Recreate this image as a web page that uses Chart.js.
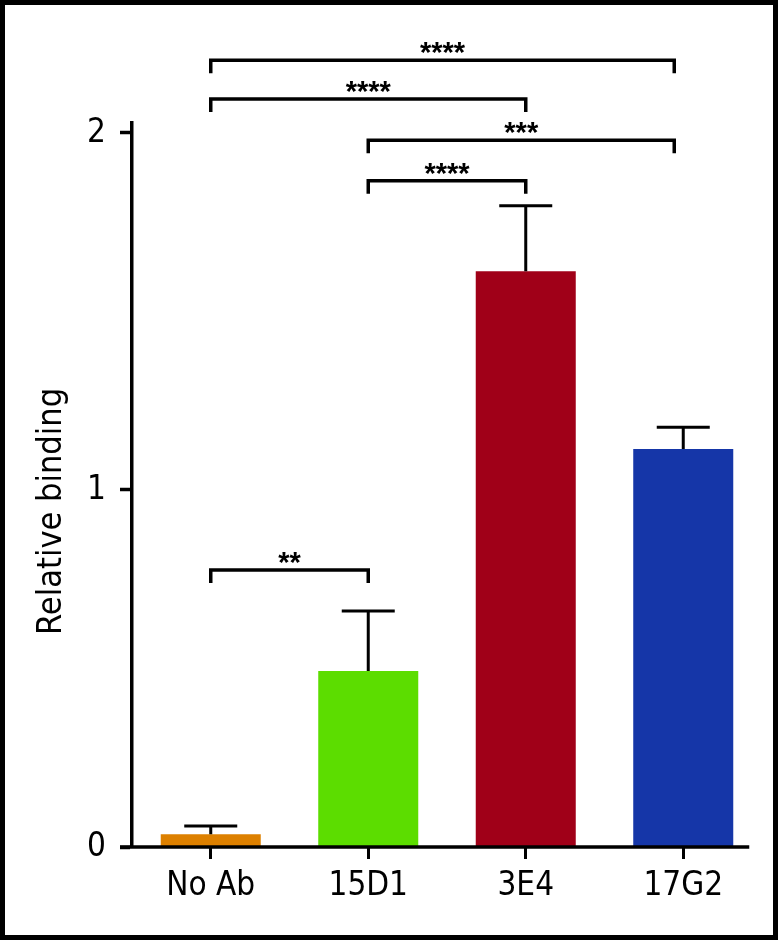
<!DOCTYPE html>
<html>
<head>
<meta charset="utf-8">
<script src="https://cdn.jsdelivr.net/npm/chart.js@4"></script>
<style>
  html, body { margin: 0; padding: 0; background: #fff; }
  #wrap { position: relative; width: 778px; height: 940px; }
</style>
</head>
<body>
<div id="wrap"><canvas id="chart" width="778" height="940"></canvas></div>
<script>
// Chart data
const categories = ['No Ab', '15D1', '3E4', '17G2'];
const means = [0.036, 0.493, 1.613, 1.115];
const sd = [0.023, 0.168, 0.183, 0.061];
const barColors = ['#dd8000', '#5cdd00', '#a00018', '#1536a8'];
const yTicks = [0, 1, 2];
const yTitle = 'Relative binding';

// Significance brackets: from / to category index, height (y units), label
const bracketFrom = [0, 0, 1, 1, 0];
const bracketTo = [3, 2, 3, 2, 1];
const bracketLevel = [2.204, 2.095, 1.980, 1.866, 0.776];
const bracketLabel = ['****', '****', '***', '****', '**'];

const FONT = "'Liberation Sans', Arial, Helvetica, sans-serif";
const NARROW = "'DejaVu Sans Condensed', 'Liberation Sans', sans-serif";
Chart.defaults.font.family = NARROW;
Chart.defaults.color = '#000';

// Draws the upper error bars, the x axis line, brackets, y title and the frame
const extrasPlugin = {
    id: 'extras',
    afterDatasetsDraw(chart) {
        const ctx = chart.ctx;
        const y = chart.scales.y;
        const meta = chart.getDatasetMeta(0);
        ctx.save();
        ctx.strokeStyle = '#000';
        ctx.lineCap = 'butt';

        // Error bars (upper only)
        ctx.lineWidth = 3;
        meta.data.forEach((bar, i) => {
            const cx = bar.x;
            const top = y.getPixelForValue(means[i] + sd[i]);
            const base = y.getPixelForValue(means[i]);
            const capHalf = bar.width * 0.265;
            ctx.beginPath();
            ctx.moveTo(cx, base);
            ctx.lineTo(cx, top);
            ctx.moveTo(cx - capHalf, top);
            ctx.lineTo(cx + capHalf, top);
            ctx.stroke();
        });
        ctx.restore();
    },
    afterDraw(chart) {
        const ctx = chart.ctx;
        const x = chart.scales.x;
        const y = chart.scales.y;
        const area = chart.chartArea;
        const meta = chart.getDatasetMeta(0);
        const last = meta.data[meta.data.length - 1];
        ctx.save();
        ctx.strokeStyle = '#000';
        ctx.fillStyle = '#000';

        // X axis line, stops a little past the last bar
        ctx.lineWidth = 3.5;
        ctx.beginPath();
        ctx.moveTo(area.left - 12, area.bottom);
        ctx.lineTo(last.x + last.width / 2 + 16, area.bottom);
        ctx.stroke();

        // Brackets (the right end over the last bar sits a bit left of centre)
        ctx.lineWidth = 3.5;
        ctx.lineJoin = 'miter';
        ctx.font = 'bold 29px ' + FONT;
        ctx.textAlign = 'center';
        ctx.textBaseline = 'alphabetic';
        bracketFrom.forEach((from, i) => {
            const x1 = x.getPixelForValue(from);
            let x2 = x.getPixelForValue(bracketTo[i]);
            if (bracketTo[i] === categories.length - 1) x2 -= 9;
            const yy = y.getPixelForValue(bracketLevel[i]);
            ctx.beginPath();
            ctx.moveTo(x1, yy + 13);
            ctx.lineTo(x1, yy);
            ctx.lineTo(x2, yy);
            ctx.lineTo(x2, yy + 13);
            ctx.stroke();
            ctx.fillText(bracketLabel[i], (x1 + x2) / 2, yy + 2);
        });

        // Y axis title, set a little below the middle of the axis
        ctx.save();
        ctx.translate(52, y.getPixelForValue(0.94));
        ctx.rotate(-Math.PI / 2);
        ctx.font = '34px ' + NARROW;
        ctx.textAlign = 'center';
        ctx.textBaseline = 'middle';
        ctx.fillText(yTitle, 0, 0);
        ctx.restore();

        // Frame round the figure
        ctx.lineWidth = 5;
        ctx.strokeRect(2.5, 2.5, chart.width - 5, chart.height - 5);
        ctx.restore();
    }
};

new Chart(document.getElementById('chart'), {
    type: 'bar',
    data: {
        labels: categories,
        datasets: [{
            data: means,
            backgroundColor: barColors,
            borderWidth: 0,
            barPercentage: 0.635,
            categoryPercentage: 1.0
        }]
    },
    options: {
        responsive: false,
        animation: false,
        devicePixelRatio: 1,
        layout: { padding: { left: 0, right: 16, top: 123, bottom: 0 } },
        plugins: { legend: { display: false }, tooltip: { enabled: false } },
        scales: {
            x: {
                offset: true,
                grid: {
                    offset: false,
                    drawOnChartArea: false,
                    drawTicks: true,
                    tickLength: 12,
                    tickWidth: 3,
                    tickColor: '#000'
                },
                border: { display: false },
                ticks: { font: { size: 33 }, padding: 8, color: '#000' },
                afterFit(scale) { scale.height = 93; }
            },
            y: {
                min: 0,
                max: 2.028,
                afterBuildTicks(scale) {
                    scale.ticks = yTicks.map(v => ({ value: v }));
                },
                grid: {
                    drawOnChartArea: false,
                    drawTicks: true,
                    tickLength: 12,
                    tickWidth: 3.5,
                    tickColor: '#000'
                },
                border: { display: true, color: '#000', width: 3.5 },
                ticks: { font: { size: 33 }, padding: 14, color: '#000' },
                title: { display: false },
                afterFit(scale) { scale.width = 132; }
            }
        }
    },
    plugins: [extrasPlugin]
});
</script>
</body>
</html>
